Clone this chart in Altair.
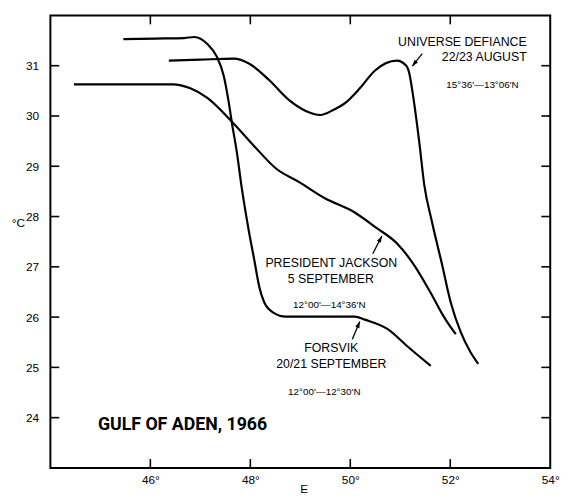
import math
import altair as alt
import pandas as pd

# ---------------- data ----------------
forsvik_lon = [45.46, 46.10, 46.68, 46.88, 47.14, 47.33, 47.47, 47.57, 47.63, 47.73, 47.83,
               47.96, 48.08, 48.18, 48.28, 48.46, 48.71, 49.40, 50.09, 50.29, 50.75, 51.14, 51.61]
forsvik_t = [31.53, 31.54, 31.55, 31.57, 31.43, 31.18, 30.79, 30.26, 29.87, 29.28, 28.56,
             27.77, 27.13, 26.60, 26.29, 26.09, 26.01, 26.01, 26.01, 25.95, 25.76, 25.42, 25.03]

ud_lon = [46.37, 47.00, 47.67, 47.98, 48.38, 48.77, 49.11, 49.40, 49.66, 49.90, 50.19, 50.49,
          50.93, 51.12, 51.18, 51.24, 51.38, 51.48, 51.63, 51.83, 52.01, 52.21, 52.40, 52.56]
ud_t = [31.10, 31.12, 31.14, 31.04, 30.71, 30.32, 30.10, 30.02, 30.12, 30.26, 30.55, 30.90,
        31.10, 31.00, 30.85, 30.51, 29.48, 28.63, 27.91, 27.07, 26.29, 25.70, 25.31, 25.07]

pj_lon = [44.47, 45.50, 46.45, 46.80, 47.14, 47.59, 48.06, 48.52, 48.97, 49.50, 50.04,
          50.53, 50.94, 51.28, 51.61, 51.87, 52.11]
pj_t = [30.63, 30.63, 30.63, 30.55, 30.36, 29.93, 29.42, 28.95, 28.69, 28.36, 28.11,
        27.77, 27.46, 27.03, 26.48, 26.01, 25.66]

x_label_vals = [46, 48, 50, 52, 54]
x_tick_vals = [46, 48, 50, 52]
y_vals = [24, 25, 26, 27, 28, 29, 30, 31]

# annotation texts
right_texts = ["UNIVERSE DEFIANCE", "22/23 AUGUST"]
right_lon = [53.53, 53.53]
right_t = [31.47, 31.18]
right_small_texts = ["15°36'—13°06'N"]
right_small_lon = [53.37]
right_small_t = [30.61]

center_texts = ["PRESIDENT JACKSON", "5 SEPTEMBER", "FORSVIK", "20/21 SEPTEMBER"]
center_lon = [49.62, 49.61, 49.62, 49.62]
center_t = [27.07, 26.76, 25.39, 25.06]
center_small_texts = ["12°00'—14°36'N", "12°00'—12°30'N"]
center_small_lon = [49.58, 49.48]
center_small_t = [26.23, 24.50]

title_text = ["GULF OF ADEN, 1966"]
title_lon = [44.95]
title_t = [23.86]

# arrows (tail -> head)
arrow_tail_lon = [51.44, 50.45, 50.04]
arrow_tail_t = [31.24, 27.26, 25.56]
arrow_head_lon = [51.24, 50.63, 50.19]
arrow_head_t = [30.99, 27.61, 25.91]

# ---------------- build tables ----------------
W, H = 507, 459
X0, X1, Y0, Y1 = 44, 54, 23, 32
pxx = W / (X1 - X0)
pxy = H / (Y1 - Y0)
TX = 9 / pxx   # inward tick length in data units (x)
TY = 9 / pxy   # inward tick length in data units (y)

rows = []
for name, lo, te in [("Forsvik", forsvik_lon, forsvik_t),
                     ("Universe Defiance", ud_lon, ud_t),
                     ("President Jackson", pj_lon, pj_t)]:
    for i, (a, b) in enumerate(zip(lo, te)):
        rows.append({"ship": name, "idx": i, "lon": a, "t": b})
curves = pd.DataFrame(rows)

arrows = pd.DataFrame({
    "lon_tail": arrow_tail_lon, "t_tail": arrow_tail_t,
    "lon_head": arrow_head_lon, "t_head": arrow_head_t,
})
arrows["ang"] = [
    math.degrees(math.atan2((hx - tx) * pxx, (ht - tt) * pxy)) % 360
    for tx, tt, hx, ht in zip(arrow_tail_lon, arrow_tail_t, arrow_head_lon, arrow_head_t)
]

# tick segments on the four sides of the frame (in data units)
tick_rows = []
for v in x_tick_vals:
    tick_rows.append({"a": v, "b": Y0, "a2": v, "b2": Y0 + TY})   # bottom
    tick_rows.append({"a": v, "b": Y1, "a2": v, "b2": Y1 - TY})   # top
for v in y_vals:
    tick_rows.append({"a": X0, "b": v, "a2": X0 + TX, "b2": v})   # left
    tick_rows.append({"a": X1, "b": v, "a2": X1 - TX, "b2": v})   # right
ticks_df = pd.DataFrame(tick_rows)


def xs():
    return alt.Scale(domain=[X0, X1], nice=False, zero=False)


def ys():
    return alt.Scale(domain=[Y0, Y1], nice=False, zero=False)


FONT = "Liberation Sans"

x_label_axis = alt.Axis(orient="bottom", values=x_label_vals, labelExpr="datum.value + '°'",
                        ticks=False, tickSize=0, domain=False, grid=False, labelPadding=7,
                        labelFlush=False, labelOverlap=False,
                        labelFontSize=12, labelFont=FONT, labelColor="black",
                        title="E", titleX=257, titleY=21, titleAlign="center",
                        titleBaseline="middle", titleFontSize=12, titleFontWeight="normal",
                        titleFont=FONT, titleColor="black")
y_label_axis = alt.Axis(orient="left", values=y_vals, ticks=False, tickSize=0, domain=False,
                        grid=False, labelPadding=12, labelFontSize=12, labelFont=FONT,
                        labelFlush=False, labelOverlap=False, labelColor="black",
                        title="°C", titleAngle=0, titleX=-33, titleY=210, titleAlign="center",
                        titleBaseline="middle", titleFontSize=12, titleFontWeight="normal",
                        titleFont=FONT, titleColor="black")

lines = alt.Chart(curves).mark_line(interpolate="monotone", color="black", strokeWidth=2.2).encode(
    x=alt.X("lon:Q", scale=xs(), axis=x_label_axis),
    y=alt.Y("t:Q", scale=ys(), axis=y_label_axis),
    detail="ship:N",
    order="idx:Q",
)

ticks = alt.Chart(ticks_df).mark_rule(color="black", strokeWidth=1.6).encode(
    x=alt.X("a:Q", scale=xs(), axis=None),
    y=alt.Y("b:Q", scale=ys(), axis=None),
    x2="a2:Q",
    y2="b2:Q",
)


def text_layer(labels, lon, t, align, size, font=FONT, weight="normal"):
    df = pd.DataFrame({"label": labels, "lon": lon, "t": t})
    return alt.Chart(df).mark_text(align=align, baseline="middle", font=font, fontSize=size,
                                   fontWeight=weight, color="black").encode(
        x=alt.X("lon:Q", scale=xs(), axis=None),
        y=alt.Y("t:Q", scale=ys(), axis=None),
        text="label:N",
    )


center_layer = text_layer(center_texts, center_lon, center_t, "center", 12.5)
center_small_layer = text_layer(center_small_texts, center_small_lon, center_small_t, "center", 10)
right_layer = text_layer(right_texts, right_lon, right_t, "right", 12.5)
right_small_layer = text_layer(right_small_texts, right_small_lon, right_small_t, "right", 10)
title_layer = text_layer(title_text, title_lon, title_t, "left", 18, font="Roboto", weight="bold")

shafts = alt.Chart(arrows).mark_rule(color="black", strokeWidth=1.3).encode(
    x=alt.X("lon_tail:Q", scale=xs(), axis=None),
    y=alt.Y("t_tail:Q", scale=ys(), axis=None),
    x2="lon_head:Q",
    y2="t_head:Q",
)

heads = alt.Chart(arrows).mark_point(shape="M0,0 L-0.7,2 L0.7,2 Z", filled=True, color="black",
                                     size=42, opacity=1, strokeWidth=0).encode(
    x=alt.X("lon_head:Q", scale=xs(), axis=None),
    y=alt.Y("t_head:Q", scale=ys(), axis=None),
    angle=alt.Angle("ang:Q", scale=None),
)

chart = alt.layer(
    lines, ticks,
    center_layer, center_small_layer, right_layer, right_small_layer,
    title_layer, shafts, heads
).resolve_scale(x="independent", y="independent").properties(
    width=W, height=H,
    autosize=alt.AutoSizeParams(type="none"),
    padding={"left": 43, "top": 4, "right": 16, "bottom": 29},
    background="white",
).configure_view(stroke="black", strokeWidth=2)

chart.save("out.html", embed_options={"renderer": "svg", "actions": False})
